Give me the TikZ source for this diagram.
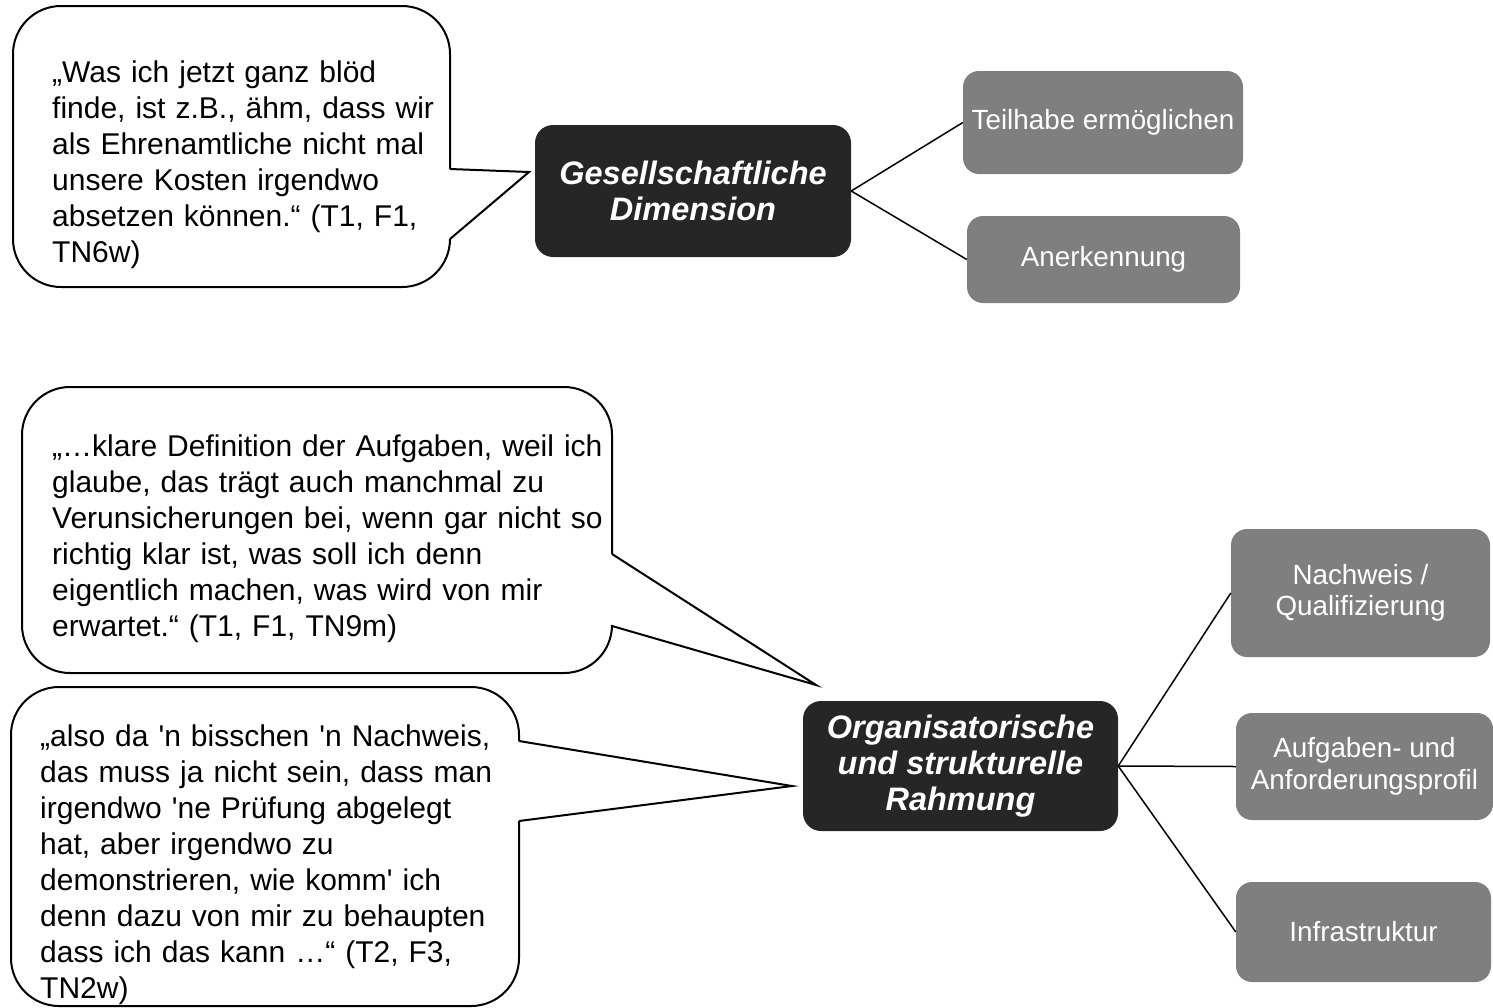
\documentclass[tikz,border=0pt]{standalone}
\usepackage{fontspec}
\setmainfont{Liberation Sans}
\usetikzlibrary{positioning}
\definecolor{dd}{RGB}{38,38,38}
\definecolor{gg}{RGB}{127,127,127}
\def\rad{48pt}
% speech bubble: left, top, right, bottom, wedge top, wedge bottom, tip
\newcommand{\qbubble}[7]{\draw[bubbleline,rounded corners=\rad] (#3,#6) -- (#3,#4) -- (#1,#4) -- (#1,#2) -- (#3,#2) -- (#3,#5);
	\draw[bubbleline] (#3,#5) -- (#7) -- (#3,#6);}

\begin{document}
\begin{tikzpicture}[x=1pt,y=-1pt,
	bubbleline/.style={line width=2pt,line join=miter},
	quotetext/.style={anchor=north west,text width=640pt,align=left,inner sep=0pt,font=\fontsize{30}{36}\selectfont},
	mainbox/.style={rectangle,rounded corners=18pt,fill=dd,text=white,align=center,inner sep=0pt,font=\fontsize{32.5}{36}\selectfont\bfseries\itshape},
	subbox/.style={rectangle,rounded corners=16pt,fill=gg,text=white,align=center,inner sep=0pt,font=\fontsize{27.8}{31.5}\selectfont},
	link/.style={line width=1.5pt}]
\useasboundingbox (0,0) rectangle (1493,1007);

% main boxes
\node[mainbox,minimum width=316pt,minimum height=132pt] (gd) at (693,191) {Gesellschaftliche\\Dimension};
\node[mainbox,minimum width=315pt,minimum height=130pt] (osr) at (960.5,766) {Organisatorische\\und strukturelle\\Rahmung};

% sub boxes
\node[subbox,minimum width=280pt,minimum height=103pt] (teil) at (1103,122.5) {Teilhabe ermöglichen};
\node[subbox,minimum width=273pt,minimum height=87pt] (anerk) at (1103.5,259.5) {Anerkennung};
\node[subbox,minimum width=259pt,minimum height=128pt] (nach) at (1360.5,593) {Nachweis /\\Qualifizierung};
\node[subbox,minimum width=257pt,minimum height=107pt] (aufg) at (1364.5,766.5) {Aufgaben- und\\Anforderungsprofil};
\node[subbox,minimum width=255pt,minimum height=100pt] (infra) at (1363.5,932) {Infrastruktur};

\draw[link] (gd.east) -- (teil.west);
\draw[link] (gd.east) -- (anerk.west);
\draw[link] (osr.east) -- (nach.west);
\draw[link] (osr.east) -- (aufg.west);
\draw[link] (osr.east) -- (infra.west);

% quotes
\coordinate (tipA) at (529,172);
\coordinate (tipB) at (816,685);
\coordinate (tipC) at (792,786);
\qbubble{13}{6}{450}{287}{169}{239}{tipA}
\qbubble{22}{387}{612}{673}{554}{626}{tipB}
\qbubble{11}{687}{519}{1006}{741}{821}{tipC}

\node[quotetext] (qA) at (52,57) {\strut„Was ich jetzt ganz blöd\\finde, ist z.B., ähm, dass wir\\als Ehrenamtliche nicht mal\\unsere Kosten irgendwo\\absetzen können.“ (T1, F1,\\TN6w)};
\node[quotetext] (qB) at (52,431) {\strut„…klare Definition der Aufgaben, weil ich\\glaube, das trägt auch manchmal zu\\Verunsicherungen bei, wenn gar nicht so\\richtig klar ist, was soll ich denn\\eigentlich machen, was wird von mir\\erwartet.“ (T1, F1, TN9m)};
\node[quotetext] (qC) at (40,721) {\strut„also da \textquotesingle n bisschen \textquotesingle n Nachweis,\\das muss ja nicht sein, dass man\\irgendwo \textquotesingle ne Prüfung abgelegt\\hat, aber irgendwo zu\\demonstrieren, wie komm\textquotesingle{} ich\\denn dazu von mir zu behaupten\\dass ich das kann …“ (T2, F3,\\TN2w)};
\end{tikzpicture}
\end{document}
